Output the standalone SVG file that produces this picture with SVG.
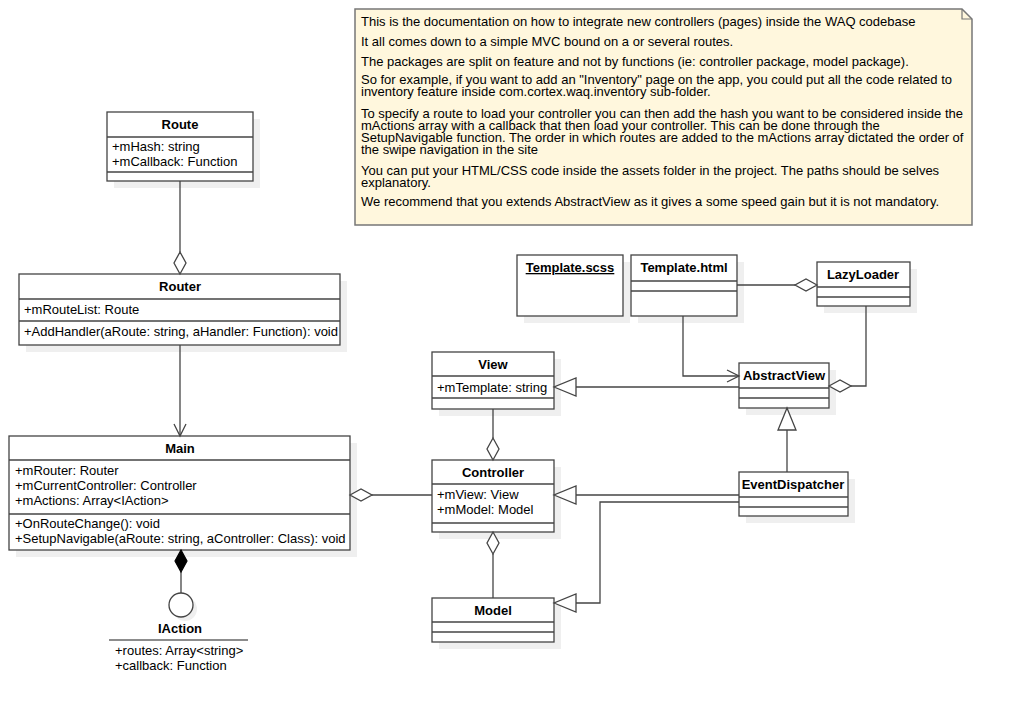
<svg xmlns="http://www.w3.org/2000/svg" width="1013" height="718" viewBox="0 0 1013 718">
<style>
text{font-family:"Liberation Sans",Arial,sans-serif;font-size:13px;fill:#000}
.t{font-weight:bold;text-anchor:middle}
.box{fill:#fff;stroke:#444;stroke-width:1.3}
.sh{fill:#efefef;stroke:none}
.sep{stroke:#444;stroke-width:1.3}
.c{fill:none;stroke:#444;stroke-width:1.3}
.hd{fill:#fff;stroke:#444;stroke-width:1.3}
.fd{fill:#000;stroke:#000;stroke-width:1.2}
.note{fill:#fff7dd;stroke:#777;stroke-width:1.5}
.nt{font-size:13px}
</style>
<defs>
<marker id="tri" markerUnits="userSpaceOnUse" viewBox="-24 -11 26 22" markerWidth="26" markerHeight="22" refX="0" refY="0" orient="auto" overflow="visible">
<path d="M0,0 L-22,-9 L-22,9 Z" fill="#fff" stroke="#444" stroke-width="1.3"/>
</marker>
<marker id="arr" markerUnits="userSpaceOnUse" viewBox="-14 -8 16 16" markerWidth="16" markerHeight="16" refX="0" refY="0" orient="auto" overflow="visible">
<path d="M-12,-6 L0,0 L-12,6" fill="none" stroke="#444" stroke-width="1.3"/>
</marker>
</defs>
<rect width="1013" height="718" fill="#fff"/>

<g id="note">
<path class="note" d="M355,9 L962,9 L972,19 L972,225 L355,225 Z"/>
<path d="M962,9 L962,19 L972,19" fill="none" stroke="#777" stroke-width="1.2"/>
<text class="nt" x="361" y="26">This is the documentation on how to integrate new controllers (pages) inside the WAQ codebase</text>
<text class="nt" x="361" y="46">It all comes down to a simple MVC bound on a or several routes.</text>
<text class="nt" x="361" y="66">The packages are split on feature and not by functions (ie: controller package, model package).</text>
<text class="nt" x="361" y="84">So for example, if you want to add an "Inventory" page on the app, you could put all the code related to</text>
<text class="nt" x="361" y="96">inventory feature inside com.cortex.waq.inventory sub-folder.</text>
<text class="nt" x="361" y="118">To specify a route to load your controller you can then add the hash you want to be considered inside the</text>
<text class="nt" x="361" y="130">mActions array with a callback that then load your controller. This  can be done through the</text>
<text class="nt" x="361" y="142">SetupNavigable function. The order in which routes are added to the mActions array dictated the order of</text>
<text class="nt" x="361" y="154">the swipe navigation in the site</text>
<text class="nt" x="361" y="175">You can put your HTML/CSS code inside the assets folder in the project. The paths should be selves</text>
<text class="nt" x="361" y="187">explanatory.</text>
<text class="nt" x="361" y="206">We recommend that you extends AbstractView as it gives a some speed gain but it is not mandatory.</text>
</g>

<g id="Route">
<rect class="sh" x="114" y="119" width="146" height="69"/>
<rect class="box" x="107" y="112" width="146" height="69"/>
<line class="sep" x1="107" y1="137" x2="253" y2="137"/>
<line class="sep" x1="107" y1="172" x2="253" y2="172"/>
<text class="t" x="180" y="129">Route</text>
<text x="112" y="151">+mHash: string</text>
<text x="112" y="166">+mCallback: Function</text>
</g>

<g id="Router">
<rect class="sh" x="26" y="281" width="321" height="71"/>
<rect class="box" x="19" y="274" width="321" height="71"/>
<line class="sep" x1="19" y1="299" x2="340" y2="299"/>
<line class="sep" x1="19" y1="321" x2="340" y2="321"/>
<text class="t" x="180" y="291">Router</text>
<text x="24" y="314">+mRouteList: Route</text>
<text x="24" y="336">+AddHandler(aRoute: string, aHandler: Function): void</text>
</g>

<g id="Main">
<rect class="sh" x="16" y="443" width="341" height="114"/>
<rect class="box" x="9" y="436" width="341" height="114"/>
<line class="sep" x1="9" y1="460" x2="350" y2="460"/>
<line class="sep" x1="9" y1="514" x2="350" y2="514"/>
<text class="t" x="180" y="453">Main</text>
<text x="15" y="475">+mRouter: Router</text>
<text x="15" y="490">+mCurrentController: Controller</text>
<text x="15" y="505">+mActions: Array&lt;IAction&gt;</text>
<text x="15" y="528">+OnRouteChange(): void</text>
<text x="15" y="543">+SetupNavigable(aRoute: string, aController: Class): void</text>
</g>

<g id="IAction">
<circle cx="185" cy="609" r="12" fill="#efefef"/>
<circle cx="181" cy="605" r="12" fill="#fff" stroke="#444" stroke-width="1.3"/>
<text class="t" x="180" y="633">IAction</text>
<line x1="109" y1="640" x2="248" y2="640" stroke="#666" stroke-width="1.5"/>
<text x="115" y="655">+routes: Array&lt;string&gt;</text>
<text x="115" y="670">+callback: Function</text>
</g>

<g id="TemplateScss">
<rect class="sh" x="524" y="262" width="106" height="61"/>
<rect class="box" x="517" y="255" width="106" height="61"/>
<text class="t" x="570" y="272" text-decoration="underline">Template.scss</text>
</g>

<g id="TemplateHtml">
<rect class="sh" x="638" y="262" width="106" height="61"/>
<rect class="box" x="631" y="255" width="106" height="61"/>
<line class="sep" x1="631" y1="281" x2="737" y2="281"/>
<line class="sep" x1="631" y1="291" x2="737" y2="291"/>
<text class="t" x="684" y="272">Template.html</text>
</g>

<g id="LazyLoader">
<rect class="sh" x="824" y="269" width="93" height="44"/>
<rect class="box" x="817" y="262" width="93" height="44"/>
<line class="sep" x1="817" y1="287" x2="910" y2="287"/>
<line class="sep" x1="817" y1="297" x2="910" y2="297"/>
<text class="t" x="863" y="279">LazyLoader</text>
</g>

<g id="View">
<rect class="sh" x="439" y="359" width="122" height="57"/>
<rect class="box" x="432" y="352" width="122" height="57"/>
<line class="sep" x1="432" y1="376" x2="554" y2="376"/>
<line class="sep" x1="432" y1="398" x2="554" y2="398"/>
<text class="t" x="493" y="369">View</text>
<text x="437" y="392">+mTemplate: string</text>
</g>

<g id="AbstractView">
<rect class="sh" x="746" y="370" width="90" height="45"/>
<rect class="box" x="739" y="363" width="90" height="45"/>
<line class="sep" x1="739" y1="388" x2="829" y2="388"/>
<line class="sep" x1="739" y1="398" x2="829" y2="398"/>
<text class="t" x="784" y="380">AbstractView</text>
</g>

<g id="Controller">
<rect class="sh" x="439" y="467" width="122" height="72"/>
<rect class="box" x="432" y="460" width="122" height="72"/>
<line class="sep" x1="432" y1="484" x2="554" y2="484"/>
<line class="sep" x1="432" y1="523" x2="554" y2="523"/>
<text class="t" x="493" y="477">Controller</text>
<text x="437" y="499">+mView: View</text>
<text x="437" y="514">+mModel: Model</text>
</g>

<g id="Model">
<rect class="sh" x="439" y="605" width="122" height="44"/>
<rect class="box" x="432" y="598" width="122" height="44"/>
<line class="sep" x1="432" y1="622" x2="554" y2="622"/>
<line class="sep" x1="432" y1="632" x2="554" y2="632"/>
<text class="t" x="493" y="615">Model</text>
</g>

<g id="EventDispatcher">
<rect class="sh" x="746" y="479" width="109" height="44"/>
<rect class="box" x="739" y="472" width="109" height="44"/>
<line class="sep" x1="739" y1="497" x2="848" y2="497"/>
<line class="sep" x1="739" y1="507" x2="848" y2="507"/>
<text class="t" x="793" y="489">EventDispatcher</text>
</g>

<g id="connectors">
<path class="c" d="M180,252 L180,181"/>
<path class="hd" d="M180,274 L174,263 L180,252 L186,263 Z"/>
<path class="c" d="M180,345 L180,436" marker-end="url(#arr)"/>
<path class="c" d="M181,572 L181,593"/>
<path class="fd" d="M181,550 L175,561 L181,572 L187,561 Z"/>
<path class="c" d="M372,495 L432,495"/>
<path class="hd" d="M350,495 L361,489 L372,495 L361,501 Z"/>
<path class="c" d="M493,438 L493,409"/>
<path class="hd" d="M493,460 L487,449 L493,438 L499,449 Z"/>
<path class="c" d="M493,554 L493,598"/>
<path class="hd" d="M493,532 L487,543 L493,554 L499,543 Z"/>
<path class="c" d="M739,387 L554,387" marker-end="url(#tri)"/>
<path class="c" d="M683,316 L683,376 L739,376" marker-end="url(#arr)"/>
<path class="c" d="M795,285 L737,285"/>
<path class="hd" d="M817,285 L806,279 L795,285 L806,291 Z"/>
<path class="c" d="M851,386 L866,386 L866,306"/>
<path class="hd" d="M829,386 L840,380 L851,386 L840,392 Z"/>
<path class="c" d="M787,472 L787,408" marker-end="url(#tri)"/>
<path class="c" d="M739,495 L554,495" marker-end="url(#tri)"/>
<path class="c" d="M739,502 L600,502 L600,603 L554,603" marker-end="url(#tri)"/>
</g>
</svg>
